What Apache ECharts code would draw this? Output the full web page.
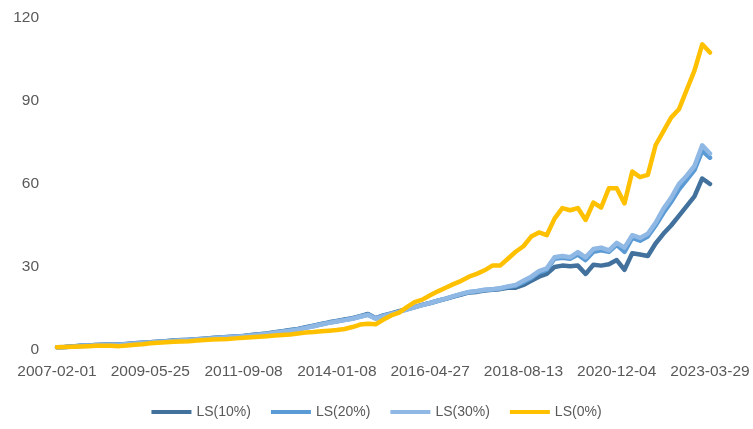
<!DOCTYPE html>
<html>
<head>
<meta charset="utf-8">
<script src="https://cdn.jsdelivr.net/npm/echarts@6/dist/echarts.min.js"></script>
<style>html,body{margin:0;padding:0;background:#fff;}#c{width:753px;height:429px;}</style>
</head>
<body>
<div id="c"></div>
<script>
const tickLabels = ['2007-02-01','2009-05-25','2011-09-08','2014-01-08','2016-04-27','2018-08-13','2020-12-04','2023-03-29'];
const seriesNames = ['LS(10%)','LS(20%)','LS(30%)','LS(0%)'];
const ls10 = [1.0,1.1,1.3,1.5,1.6,1.8,1.9,2.0,2.0,2.2,2.4,2.6,2.8,
  3.0,3.2,3.4,3.6,3.7,3.9,4.1,4.3,4.5,4.7,4.9,5.1,
  5.4,5.7,6.0,6.4,6.8,7.2,7.6,8.2,8.8,9.4,10.0,10.5,
  11.0,11.5,12.2,13.0,11.5,12.5,13.2,14.0,14.8,15.5,16.3,17.0,
  17.8,18.5,19.3,20.0,20.8,21.0,21.5,21.8,22.0,22.5,22.5,23.5,
  25.0,26.5,27.5,30.0,30.5,30.3,30.5,27.5,30.8,30.5,31.0,32.5,
  29.0,35.0,34.5,34.0,38.5,42.0,45.0,48.5,52.0,55.5,62.0,60.0];
const ls20 = [1.0,1.1,1.3,1.5,1.6,1.8,1.9,2.0,2.0,2.2,2.4,2.6,2.8,
  3.0,3.2,3.4,3.5,3.7,3.9,4.1,4.3,4.5,4.7,4.9,5.1,
  5.3,5.6,5.9,6.3,6.7,7.1,7.5,8.1,8.7,9.3,9.9,10.4,
  10.9,11.4,12.1,12.8,11.4,12.4,13.1,13.9,14.7,15.5,16.3,17.0,
  17.8,18.6,19.4,20.2,20.9,21.2,21.7,21.9,22.2,22.8,23.2,24.5,
  26.0,28.0,29.0,33.0,33.3,33.0,34.5,32.5,35.5,36.0,35.5,38.0,
  35.5,40.5,39.5,41.0,45.0,49.5,53.5,58.0,61.5,65.0,72.0,69.5];
const ls30 = [1.0,1.1,1.2,1.4,1.5,1.7,1.8,1.9,1.9,2.1,2.3,2.5,2.7,
  2.9,3.1,3.3,3.5,3.6,3.8,4.0,4.2,4.4,4.6,4.8,5.0,
  5.2,5.5,5.8,6.2,6.6,7.0,7.4,8.0,8.6,9.2,9.8,10.3,
  10.8,11.3,12.0,12.7,11.3,12.2,13.0,13.8,14.6,15.4,16.2,17.0,
  17.8,18.6,19.5,20.3,21.0,21.3,21.8,22.0,22.3,23.0,23.5,25.0,
  26.5,28.5,29.5,33.5,34.0,33.5,35.4,33.5,36.5,37.0,36.0,38.7,
  37.0,41.5,40.5,42.0,46.0,51.0,55.0,60.0,63.0,66.5,74.0,71.0];
const ls0 = [1.0,1.1,1.2,1.3,1.4,1.5,1.5,1.5,1.4,1.6,1.9,2.1,2.4,
  2.6,2.8,3.0,3.1,3.2,3.4,3.6,3.8,3.9,4.0,4.2,4.4,
  4.6,4.8,5.0,5.2,5.4,5.6,6.0,6.3,6.5,6.8,7.0,7.2,
  7.6,8.3,9.2,9.5,9.3,11.0,12.5,13.5,15.5,17.3,18.2,19.8,
  21.2,22.5,23.8,25.0,26.5,27.5,28.8,30.5,30.5,33.0,35.5,37.5,
  41.0,42.5,41.5,47.5,51.3,50.5,51.3,47.0,53.3,51.5,58.5,58.5,
  53.0,64.5,62.5,63.3,74.0,79.0,84.0,87.0,94.0,101.0,110.5,107.5];
const yTicks = {min: 0, max: 120, interval: 30};
const colors = ['#41719C', '#5B9BD5', '#8FB8E4', '#FFC000'];

const step = (ls0.length - 1) / (tickLabels.length - 1);
const categories = ls0.map((_, i) => (i % step === 0 ? tickLabels[i / step] : ''));
const values = [ls10, ls20, ls30, ls0];

const chart = echarts.init(document.getElementById('c'), null, {renderer: 'canvas'});
chart.setOption({
  animation: false,
  backgroundColor: '#ffffff',
  grid: {left: 57, right: 43, top: 18, bottom: 79},
  legend: {
    bottom: 5,
    left: 'center',
    icon: 'rect',
    itemWidth: 40,
    itemHeight: 4,
    itemGap: 20,
    textStyle: {fontFamily: 'Liberation Sans', fontSize: 14, color: '#595959'},
    data: seriesNames
  },
  xAxis: {
    type: 'category',
    data: categories,
    boundaryGap: false,
    axisLine: {show: false},
    axisTick: {show: false},
    splitLine: {show: false},
    axisLabel: {interval: step - 1, margin: 14, fontFamily: 'Liberation Sans', fontSize: 15.5, color: '#595959', showMaxLabel: true}
  },
  yAxis: {
    type: 'value',
    min: yTicks.min, max: yTicks.max, interval: yTicks.interval,
    axisLine: {show: false},
    axisTick: {show: false},
    splitLine: {show: false},
    axisLabel: {margin: 18, fontFamily: 'Liberation Sans', fontSize: 15.5, color: '#595959'}
  },
  series: values.map((v, k) => ({
    name: seriesNames[k],
    type: 'line',
    data: v,
    showSymbol: false,
    symbol: 'none',
    smooth: false,
    color: colors[k],
    lineStyle: {width: 4.5, color: colors[k], cap: 'round', join: 'round'}
  }))
});
</script>
</body>
</html>
